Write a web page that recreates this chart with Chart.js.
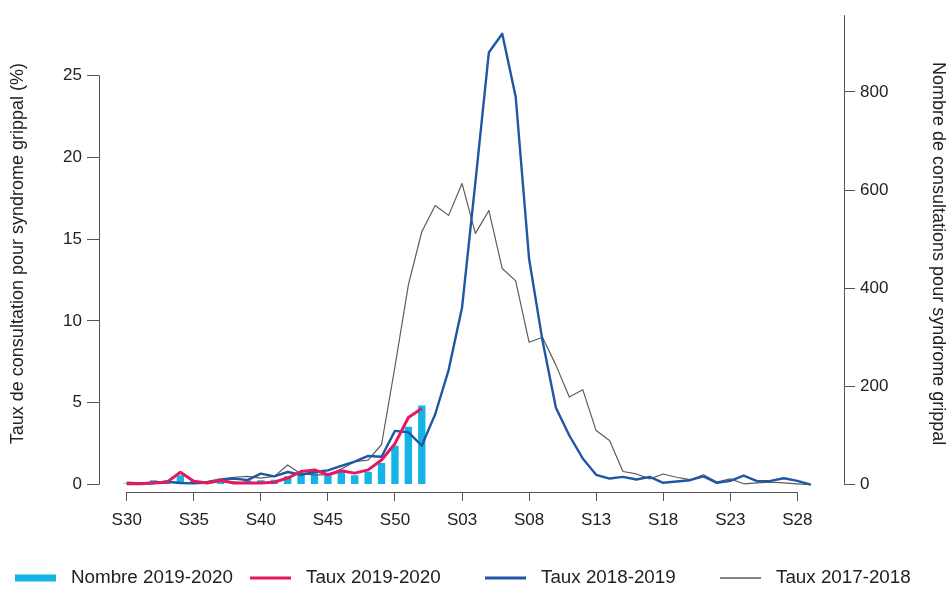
<!DOCTYPE html>
<html>
<head>
<meta charset="utf-8">
<script src="https://cdn.jsdelivr.net/npm/chart.js@4.4.1/dist/chart.umd.min.js"></script>
<style>
html,body{margin:0;padding:0;background:#fff;}
#wrap{position:relative;width:950px;height:591px;}
</style>
</head>
<body>
<div id="wrap"><canvas id="c" width="950" height="591"></canvas></div>
<script>
// ---- Data ----
const weeks = ['S30','S31','S32','S33','S34','S35','S36','S37','S38','S39','S40','S41','S42','S43','S44','S45','S46','S47','S48','S49','S50','S51','S52',
  'S01','S02','S03','S04','S05','S06','S07','S08','S09','S10','S11','S12','S13','S14','S15','S16','S17','S18','S19','S20','S21','S22','S23','S24','S25','S26','S27','S28','S29'];
const tickWeeks = ['S30','S35','S40','S45','S50','S03','S08','S13','S18','S23','S28'];
const leftTicks = [0, 5, 10, 15, 20, 25];
const rightTicks = [0, 200, 400, 600, 800];

const nombre2019_2020 = [2, 4, 9, 9, 19, 9, 6, 12, 7, 9, 9, 10, 17, 22, 24, 19, 27, 19, 26, 44, 79, 118, 161];
const taux2019_2020 = [0.05, 0.05, 0.1, 0.15, 0.75, 0.2, 0.1, 0.25, 0.1, 0.1, 0.1, 0.15, 0.4, 0.8, 0.9, 0.6, 0.85, 0.7, 0.9, 1.5, 2.5, 4.1, 4.65];
const taux2018_2019 = [0.07, 0.05, 0.1, 0.17, 0.1, 0.08, 0.13, 0.27, 0.37, 0.27,
  0.67, 0.5, 0.77, 0.6, 0.77, 0.87, 1.15, 1.4, 1.75, 1.7,
  3.28, 3.2, 2.38, 4.3, 7.0, 10.8, 18.5, 26.4, 27.55, 23.7,
  13.8, 8.8, 4.7, 3.0, 1.6, 0.6, 0.37, 0.47, 0.31, 0.47,
  0.11, 0.19, 0.27, 0.5, 0.11, 0.23, 0.55, 0.21, 0.23, 0.39,
  0.23, 0.0];
const taux2017_2018 = [0.15, 0.1, 0.15, 0.2, 0.1, 0.1, 0.2, 0.35, 0.45, 0.5,
  0.4, 0.5, 1.2, 0.65, 0.6, 0.6, 0.95, 1.4, 1.5, 2.45,
  7.2, 12.2, 15.45, 17.05, 16.45, 18.4, 15.35, 16.75, 13.2, 12.45,
  8.7, 9.0, 7.3, 5.35, 5.8, 3.3, 2.7, 0.8, 0.65, 0.35,
  0.65, 0.45, 0.3, 0.6, 0.15, 0.35, 0.05, 0.1, 0.15, 0.1,
  0.05, 0];

const seriesLabels = ['Nombre 2019-2020', 'Taux 2019-2020', 'Taux 2018-2019', 'Taux 2017-2018'];
const leftTitle = 'Taux de consultation pour syndrome grippal (%)';
const rightTitle = 'Nombre de consultations pour syndrome grippal';

// ---- Styles ----
const FONT = '"Liberation Sans", Arial, Helvetica, sans-serif';
const TEXT = '#222222';
const AXIS = '#555555';
const CYAN = '#14b4e6';
const PINK = '#e8185e';
const BLUE = '#1f56a6';
const GREY = '#5c5c5c';

const toXY = arr => arr.map((v, i) => ({x: i, y: v}));

const axisLines = {
  id: 'axisLines',
  afterDraw(chart) {
    const {ctx, chartArea, scales: {x, y, y2}} = chart;
    ctx.save();
    ctx.strokeStyle = AXIS;
    ctx.lineWidth = 1;
    const r = v => Math.round(v) + 0.5;
    ctx.beginPath();
    const xa = x.getPixelForValue(weeks.indexOf(tickWeeks[0]));
    const xb = x.getPixelForValue(weeks.indexOf(tickWeeks[tickWeeks.length - 1]));
    ctx.moveTo(xa, r(chartArea.bottom)); ctx.lineTo(xb, r(chartArea.bottom));
    ctx.moveTo(r(chartArea.left), y.getPixelForValue(leftTicks[0]));
    ctx.lineTo(r(chartArea.left), y.getPixelForValue(leftTicks[leftTicks.length - 1]));
    ctx.moveTo(r(chartArea.right), y2.getPixelForValue(rightTicks[0]));
    ctx.lineTo(r(chartArea.right), chartArea.top);
    ctx.stroke();
    ctx.restore();
  }
};

const bottomLegend = {
  id: 'bottomLegend',
  afterDraw(chart) {
    const ctx = chart.ctx;
    const yMid = 578, col0 = 15, colW = 235, symW = 41, txtOff = 56;
    ctx.save();
    ctx.font = '18.8px ' + FONT;
    ctx.textBaseline = 'middle';
    chart.data.datasets.forEach((ds, k) => {
      const x0 = col0 + k * colW;
      if (ds.type === 'bar') {
        ctx.fillStyle = ds.backgroundColor;
        ctx.fillRect(x0, yMid - 3.5, symW, 7);
      } else {
        ctx.strokeStyle = ds.borderColor;
        ctx.lineWidth = ds.legendWidth;
        ctx.beginPath();
        ctx.moveTo(x0, yMid); ctx.lineTo(x0 + symW, yMid);
        ctx.stroke();
      }
      ctx.fillStyle = TEXT;
      ctx.fillText(ds.label, x0 + txtOff, yMid);
    });
    ctx.restore();
  }
};

new Chart(document.getElementById('c'), {
  data: {
    datasets: [
      {type: 'bar', label: seriesLabels[0], data: toXY(nombre2019_2020), yAxisID: 'y2',
       backgroundColor: CYAN, borderWidth: 0, barPercentage: 0.55, categoryPercentage: 1, order: 10},
      {type: 'line', label: seriesLabels[1], data: toXY(taux2019_2020), yAxisID: 'y',
       borderColor: PINK, borderWidth: 3, pointRadius: 0, tension: 0, order: 1, legendWidth: 3, borderJoinStyle: 'round'},
      {type: 'line', label: seriesLabels[2], data: toXY(taux2018_2019), yAxisID: 'y',
       borderColor: BLUE, borderWidth: 2.4, pointRadius: 0, tension: 0, order: 2, legendWidth: 3, borderJoinStyle: 'round'},
      {type: 'line', label: seriesLabels[3], data: toXY(taux2017_2018), yAxisID: 'y',
       borderColor: GREY, borderWidth: 1.2, pointRadius: 0, tension: 0, order: 3, legendWidth: 1.4, borderJoinStyle: 'round'}
    ]
  },
  options: {
    responsive: false,
    animation: false,
    devicePixelRatio: 1,
    layout: {padding: {top: 9, left: 0, right: 0, bottom: 0}},
    plugins: {legend: {display: false}, tooltip: {enabled: false}},
    scales: {
      x: {
        type: 'linear', position: 'bottom', min: -2.066, max: 53.48, offset: false,
        border: {display: false},
        grid: {drawOnChartArea: false, drawTicks: true, tickLength: 9, color: AXIS, offset: false},
        ticks: {font: {family: FONT, size: 17}, color: TEXT, padding: 9, autoSkip: false, maxRotation: 0,
                callback: v => weeks[v]},
        afterBuildTicks: s => { s.ticks = tickWeeks.map(w => ({value: weeks.indexOf(w)})); },
        afterFit: s => { s.height = 99; }
      },
      y: {
        type: 'linear', position: 'left', min: -0.452, max: 28.68,
        border: {display: false},
        grid: {drawOnChartArea: false, drawTicks: true, tickLength: 12, color: AXIS},
        ticks: {font: {family: FONT, size: 17}, color: TEXT, padding: 5},
        afterBuildTicks: s => { s.ticks = leftTicks.map(v => ({value: v})); },
        title: {display: true, text: leftTitle, font: {family: FONT, size: 18}, color: TEXT, padding: {top: 7}},
        afterFit: s => { s.width = 99; }
      },
      y2: {
        type: 'linear', position: 'right', min: -15.08, max: 956.3,
        border: {display: false},
        grid: {drawOnChartArea: false, drawTicks: true, tickLength: 11, color: AXIS},
        ticks: {font: {family: FONT, size: 17}, color: TEXT, padding: 5},
        afterBuildTicks: s => { s.ticks = rightTicks.map(v => ({value: v})); },
        title: {display: true, text: rightTitle, font: {family: FONT, size: 18}, color: TEXT, padding: {top: 1}},
        afterFit: s => { s.width = 106; }
      }
    }
  },
  plugins: [axisLines, bottomLegend]
});
</script>
</body>
</html>
